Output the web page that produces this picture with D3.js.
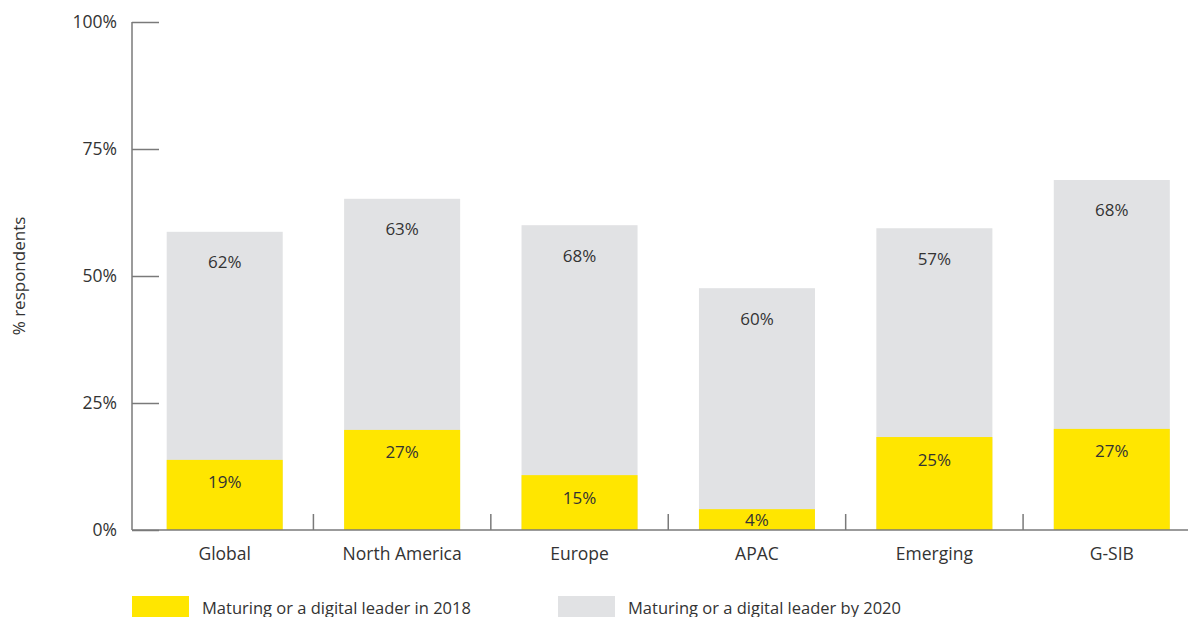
<!DOCTYPE html>
<html>
<head>
<meta charset="utf-8">
<script src="https://cdn.jsdelivr.net/npm/d3@7"></script>
<style>
  html, body { margin: 0; padding: 0; background: #fff; }
  svg { display: block; font-family: "Open Sans", "Noto Sans", sans-serif; }
</style>
</head>
<body>
<svg id="chart" width="1188" height="617"></svg>
<script>
// ---- data ----
const categories = ["Global", "North America", "Europe", "APAC", "Emerging", "G-SIB"];
// drawn bar heights (% of axis) as they appear in the picture
const value2018 = [13.8, 19.7, 10.8, 4.1, 18.3, 19.9];
const value2020 = [58.7, 65.2, 60.0, 47.6, 59.4, 68.9];
// printed labels
const label2018 = ["19%", "27%", "15%", "4%", "25%", "27%"];
const label2020 = ["62%", "63%", "68%", "60%", "57%", "68%"];
const yTicks = [0, 25, 50, 75, 100];
const seriesNames = ["Maturing or a digital leader in 2018", "Maturing or a digital leader by 2020"];
const colors = ["#FFE600", "#E1E2E4"];

const svg = d3.select("#chart");
const axisColor = "#7a7a7a";
const textColor = "#333333";

const x0 = 132, yBase = 530, yTop = 22;
const y = d3.scaleLinear().domain([0, 100]).range([yBase, yTop]);
const x = d3.scaleBand().domain(categories).range([136, 1200.5])
  .paddingInner(0.346).paddingOuter(0.173);

// bars: 2020 (grey) behind, 2018 (yellow) in front
svg.append("g").selectAll("rect").data(categories).join("rect")
  .attr("x", d => x(d)).attr("width", x.bandwidth())
  .attr("y", (d, i) => y(value2020[i]))
  .attr("height", (d, i) => y(0) - y(value2020[i]))
  .attr("fill", colors[1]);
svg.append("g").selectAll("rect").data(categories).join("rect")
  .attr("x", d => x(d)).attr("width", x.bandwidth())
  .attr("y", (d, i) => y(value2018[i]))
  .attr("height", (d, i) => y(0) - y(value2018[i]))
  .attr("fill", colors[0]);

// value labels
svg.append("g").selectAll("text").data(categories).join("text")
  .attr("x", d => x(d) + x.bandwidth() / 2)
  .attr("y", (d, i) => y(value2020[i]) + 30)
  .attr("text-anchor", "middle").attr("dominant-baseline", "central")
  .attr("font-size", 17).attr("fill", textColor)
  .text((d, i) => label2020[i]);
svg.append("g").selectAll("text").data(categories).join("text")
  .attr("x", d => x(d) + x.bandwidth() / 2)
  .attr("y", (d, i) => Math.min(y(value2018[i]) + 22, (y(value2018[i]) + y(0)) / 2))
  .attr("text-anchor", "middle").attr("dominant-baseline", "central")
  .attr("font-size", 17).attr("fill", textColor)
  .text((d, i) => label2018[i]);

// y axis
const yAxis = d3.axisRight(y).tickValues(yTicks).tickSize(27).tickFormat(d => d + "%");
const gy = svg.append("g").attr("transform", `translate(${x0},0)`).call(yAxis);
gy.select(".domain").remove();
gy.selectAll(".tick line").attr("stroke", axisColor).attr("stroke-width", 1.5);
gy.selectAll(".tick text").attr("x", -15).attr("text-anchor", "end")
  .attr("font-size", 17.5).attr("fill", textColor).attr("font-family", "Open Sans, sans-serif");
svg.append("line").attr("x1", x0).attr("x2", x0).attr("y1", y(100)).attr("y2", y(0))
  .attr("stroke", axisColor).attr("stroke-width", 1.5);

// x baseline and separators
svg.append("line").attr("x1", x0).attr("x2", 1188).attr("y1", yBase).attr("y2", yBase)
  .attr("stroke", axisColor).attr("stroke-width", 1.5);
svg.append("g").selectAll("line").data(categories.slice(1)).join("line")
  .attr("x1", d => x(d) - x.step() * x.paddingInner() / 2)
  .attr("x2", d => x(d) - x.step() * x.paddingInner() / 2)
  .attr("y1", yBase).attr("y2", yBase - 16)
  .attr("stroke", axisColor).attr("stroke-width", 1.5);

// category labels
svg.append("g").selectAll("text").data(categories).join("text")
  .attr("x", d => x(d) + x.bandwidth() / 2).attr("y", 553)
  .attr("text-anchor", "middle").attr("dominant-baseline", "central")
  .attr("font-size", 17.5).attr("fill", textColor).text(d => d);

// y axis title
svg.append("text").attr("transform", "translate(18,276) rotate(-90)")
  .attr("text-anchor", "middle").attr("dominant-baseline", "central")
  .attr("font-size", 17).attr("fill", textColor).text("% respondents");

// legend
const legendX = [132, 558];
const lg = svg.append("g").selectAll("g").data(seriesNames).join("g")
  .attr("transform", (d, i) => `translate(${legendX[i]},596)`);
lg.append("rect").attr("width", 57).attr("height", 21).attr("fill", (d, i) => colors[i]);
lg.append("text").attr("x", 70).attr("y", 11).attr("dominant-baseline", "central")
  .attr("font-size", 16.5).attr("fill", textColor).text(d => d);
</script>
</body>
</html>
